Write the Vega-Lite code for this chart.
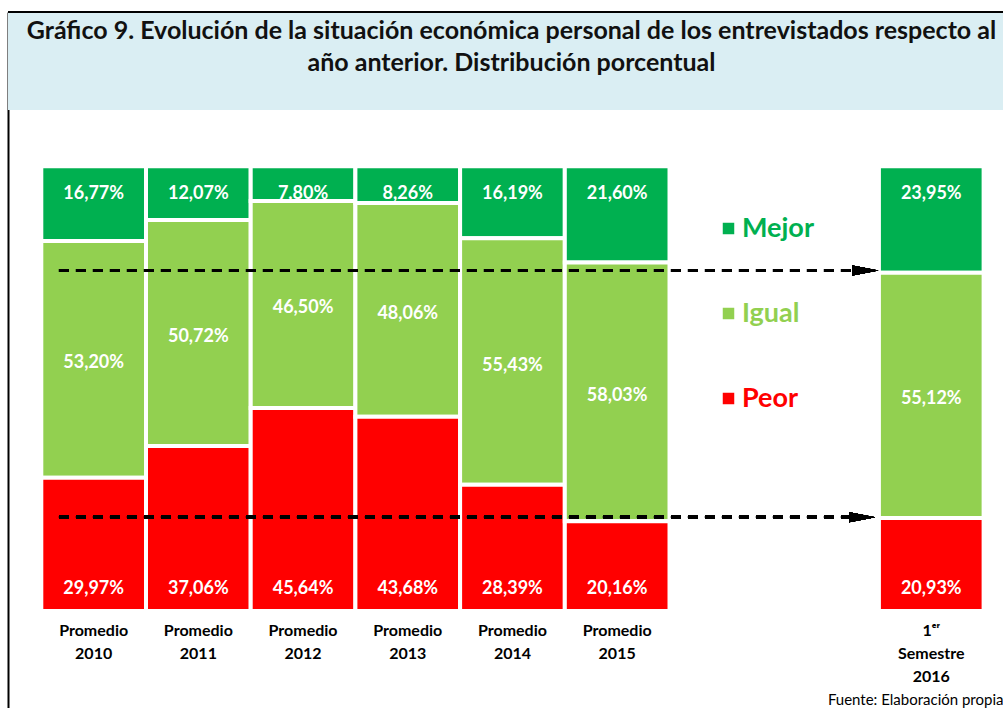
{
  "$schema": "https://vega.github.io/schema/vega-lite/v6.json",
  "autosize": {"type": "none"},
  "padding": {"left": 8, "top": 12, "right": 0, "bottom": 0},
  "width": 995,
  "height": 696,
  "background": "white",
  "config": {
    "font": "Lato",
    "view": {"stroke": null},
    "locale": {"number": {"decimal": ",", "thousands": ".", "grouping": [3], "currency": ["", "%"]}}
  },
  "title": {
    "text": ["Gráfico 9. Evolución de la situación económica personal de los entrevistados respecto al", "año anterior. Distribución porcentual"],
    "fontSize": 25,
    "fontWeight": "bold",
    "color": "#111111",
    "anchor": "middle",
    "lineHeight": 32,
    "offset": -65,
    "dx": 6
  },
  "data": {
    "values": [
      {"period": "Promedio|2010", "cat": "Mejor", "code": 1, "value": 16.77},
      {"period": "Promedio|2010", "cat": "Igual", "code": 2, "value": 53.20},
      {"period": "Promedio|2010", "cat": "Peor", "code": 3, "value": 29.97},
      {"period": "Promedio|2011", "cat": "Mejor", "code": 1, "value": 12.07},
      {"period": "Promedio|2011", "cat": "Igual", "code": 2, "value": 50.72},
      {"period": "Promedio|2011", "cat": "Peor", "code": 3, "value": 37.06},
      {"period": "Promedio|2012", "cat": "Mejor", "code": 1, "value": 7.80},
      {"period": "Promedio|2012", "cat": "Igual", "code": 2, "value": 46.50},
      {"period": "Promedio|2012", "cat": "Peor", "code": 3, "value": 45.64},
      {"period": "Promedio|2013", "cat": "Mejor", "code": 1, "value": 8.26},
      {"period": "Promedio|2013", "cat": "Igual", "code": 2, "value": 48.06},
      {"period": "Promedio|2013", "cat": "Peor", "code": 3, "value": 43.68},
      {"period": "Promedio|2014", "cat": "Mejor", "code": 1, "value": 16.19},
      {"period": "Promedio|2014", "cat": "Igual", "code": 2, "value": 55.43},
      {"period": "Promedio|2014", "cat": "Peor", "code": 3, "value": 28.39},
      {"period": "Promedio|2015", "cat": "Mejor", "code": 1, "value": 21.60},
      {"period": "Promedio|2015", "cat": "Igual", "code": 2, "value": 58.03},
      {"period": "Promedio|2015", "cat": "Peor", "code": 3, "value": 20.16},
      {"period": "1ᵉʳ|Semestre|2016", "cat": "Mejor", "code": 1, "value": 23.95},
      {"period": "1ᵉʳ|Semestre|2016", "cat": "Igual", "code": 2, "value": 55.12},
      {"period": "1ᵉʳ|Semestre|2016", "cat": "Peor", "code": 3, "value": 20.93}
    ]
  },
  "encoding": {
    "x": {
      "field": "period",
      "type": "nominal",
      "scale": {
        "domain": ["Promedio|2010", "Promedio|2011", "Promedio|2012", "Promedio|2013", "Promedio|2014", "Promedio|2015", "gap1", "gap2", "1ᵉʳ|Semestre|2016"],
        "paddingInner": 0,
        "paddingOuter": 0.2516,
        "align": 0.632,
        "round": false
      }
    }
  },
  "layer": [
    {
      "mark": {"type": "rect", "fill": "#DAEEF3"},
      "encoding": {
        "x": null,
        "y": {"datum": 1.1266, "type": "quantitative", "scale": {"domain": [-0.21812, 1.34697], "nice": false, "zero": false}},
        "y2": {"datum": 1.34697}
      }
    },
    {
      "mark": {"type": "rule", "stroke": "black", "strokeWidth": 2},
      "encoding": {
        "x": null,
        "y": {"datum": 1.34697, "type": "quantitative"}
      }
    },
    {
      "mark": {"type": "bar", "stroke": "white", "strokeWidth": 4},
      "encoding": {
        "x": {
          "field": "period",
          "type": "nominal",
          "axis": {
            "orient": "bottom",
            "offset": -97,
            "domain": false,
            "ticks": false,
            "tickSize": 0,
            "grid": false,
            "labelPadding": 19,
            "labelBaseline": "middle",
            "labelAngle": 0,
            "labelFontSize": 16,
            "labelFontWeight": "bold",
            "labelColor": "black",
            "labelLineHeight": 23,
            "labelExpr": "indexof(datum.value, 'gap') === 0 ? '' : split(datum.value, '|')",
            "title": "Fuente: Elaboración propia",
            "titleX": 995,
            "titleY": 93,
            "titleAlign": "right",
            "titleAnchor": null,
            "titleBaseline": "alphabetic",
            "titleFontSize": 15,
            "titleFontWeight": "normal",
            "titleColor": "black"
          }
        },
        "y": {
          "field": "value",
          "type": "quantitative",
          "stack": "normalize",
          "axis": {"domain": true, "domainColor": "black", "domainWidth": 2, "labels": false, "ticks": false, "grid": false, "title": null}
        },
        "color": {
          "field": "cat",
          "type": "nominal",
          "scale": {"domain": ["Mejor", "Igual", "Peor"], "range": ["#00B050", "#92D050", "#FF0000"]},
          "legend": {
            "orient": "none",
            "legendX": 707,
            "legendY": 203,
            "direction": "vertical",
            "title": null,
            "symbolType": "square",
            "symbolSize": 132,
            "symbolStrokeWidth": 0,
            "symbolOffset": 0,
            "labelFontSize": 27,
            "labelFontWeight": "bold",
            "labelOffset": 0,
            "labelColor": {"expr": "scale('color', datum.value)"},
            "rowPadding": 57,
            "padding": 0
          }
        },
        "order": {"field": "code", "sort": "descending"}
      }
    },
    {
      "mark": {"type": "text", "fill": "white", "fontSize": 18, "fontWeight": "bold", "baseline": "middle", "align": "center", "dy": 4},
      "encoding": {
        "y": {"field": "value", "type": "quantitative", "stack": "normalize", "bandPosition": 0.5},
        "detail": {"field": "cat"},
        "order": {"field": "code", "sort": "descending"},
        "text": {"condition": {"test": "datum.cat === 'Igual'", "field": "value", "format": "$.2f"}, "value": ""}
      }
    },
    {
      "transform": [{"filter": "datum.cat === 'Mejor'"}],
      "mark": {"type": "text", "fill": "white", "fontSize": 18, "fontWeight": "bold", "baseline": "middle", "align": "center", "dy": 3},
      "encoding": {
        "y": {"datum": 0.9444, "type": "quantitative"},
        "text": {"field": "value", "format": "$.2f"}
      }
    },
    {
      "transform": [{"filter": "datum.cat === 'Peor'"}],
      "mark": {"type": "text", "fill": "white", "fontSize": 18, "fontWeight": "bold", "baseline": "middle", "align": "center", "dy": 3},
      "encoding": {
        "y": {"datum": 0.0551, "type": "quantitative"},
        "text": {"field": "value", "format": "$.2f"}
      }
    },
    {
      "mark": {"type": "rule", "stroke": "black", "strokeWidth": 3, "strokeDash": [10, 7]},
      "encoding": {
        "x": {"datum": "Promedio|2010", "type": "nominal", "bandPosition": 0.169},
        "x2": {"datum": "gap2", "bandPosition": 0.8},
        "y": {"datum": 0.7657, "type": "quantitative"}
      }
    },
    {
      "mark": {"type": "rule", "stroke": "black", "strokeWidth": 3, "strokeDash": [10, 7]},
      "encoding": {
        "x": {"datum": "Promedio|2010", "type": "nominal", "bandPosition": 0.169},
        "x2": {"datum": "gap2", "bandPosition": 0.8},
        "y": {"datum": 0.2107, "type": "quantitative"}
      }
    },
    {
      "mark": {"type": "point", "shape": "M -1 -0.385 L 1 0 L -1 0.385 Z", "size": 676, "filled": true, "fill": "black", "opacity": 1, "strokeWidth": 0},
      "encoding": {
        "x": {"datum": "gap2", "type": "nominal", "bandPosition": 0.87},
        "y": {"datum": 0.7657, "type": "quantitative"}
      }
    },
    {
      "mark": {"type": "point", "shape": "M -1 -0.385 L 1 0 L -1 0.385 Z", "size": 676, "filled": true, "fill": "black", "opacity": 1, "strokeWidth": 0},
      "encoding": {
        "x": {"datum": "gap2", "type": "nominal", "bandPosition": 0.84},
        "y": {"datum": 0.2107, "type": "quantitative"}
      }
    }
  ]
}
